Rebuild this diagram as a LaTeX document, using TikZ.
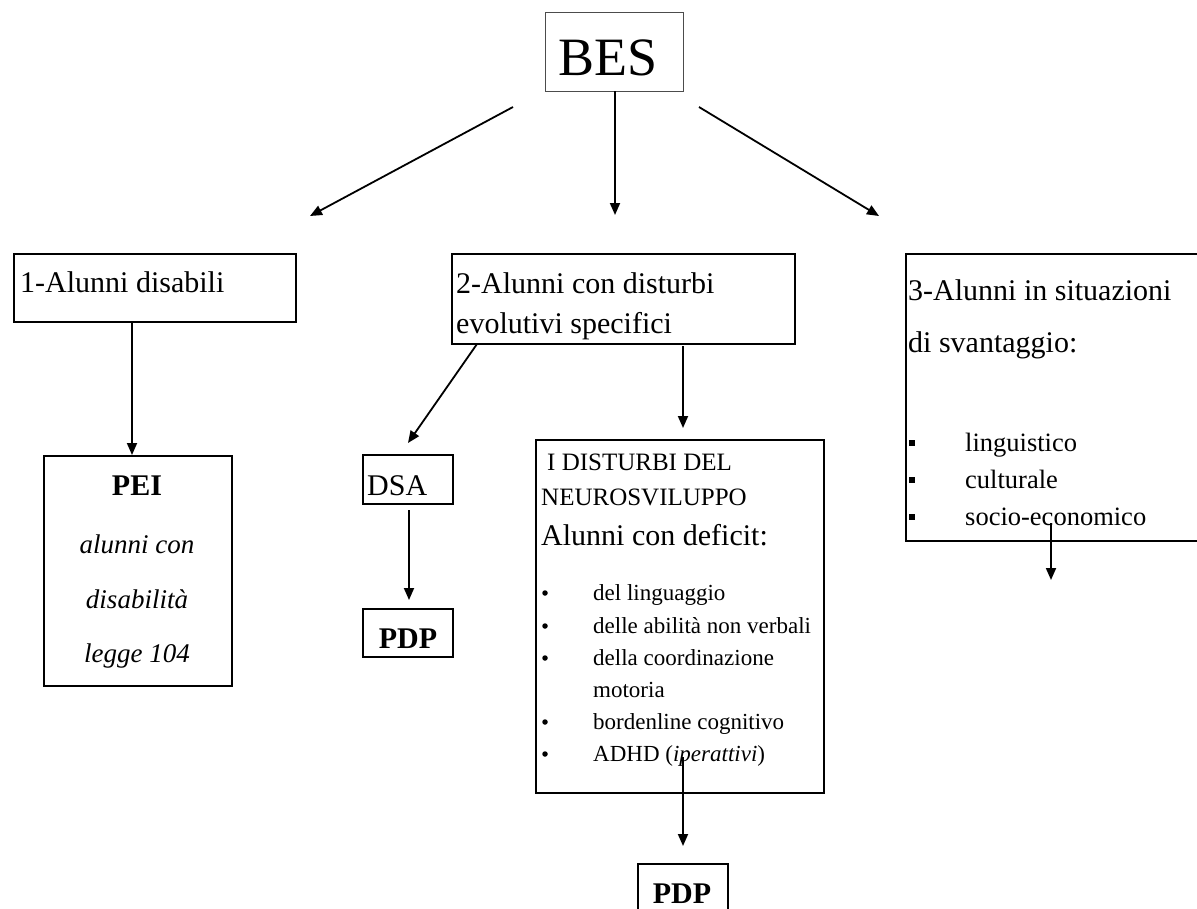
\documentclass[tikz,border=0pt]{standalone}
\usepackage{fontspec}
\setmainfont{Liberation Serif}
\usetikzlibrary{arrows.meta,calc}
\begin{document}
\begin{tikzpicture}[x=1pt,y=-1pt,
  box/.style={draw, line width=2pt, inner sep=0pt, anchor=north west},
  tl/.style={anchor=base west, inner sep=0pt},
  tc/.style={anchor=base, inner sep=0pt},
  arr/.style={line width=1.8pt, -{Triangle[length=12pt,width=10pt]}},
  big/.style={font=\fontsize{30}{36}\selectfont},
  mid/.style={font=\fontsize{25}{30}\selectfont},
  sml/.style={font=\fontsize{23}{28}\selectfont},
  ital/.style={font=\fontsize{27}{32}\selectfont\itshape},
  bold/.style={font=\fontsize{30}{36}\selectfont\bfseries},
  rb/.style={circle, fill, minimum size=5.5pt, inner sep=0pt},
  sq/.style={rectangle, fill, minimum size=5.5pt, inner sep=0pt}
]
\useasboundingbox (0,0) rectangle (1197,908);

% boxes
\node[box, line width=1.2pt, draw=black!70, minimum width=138pt, minimum height=79pt] (bes) at (545,12) {};
\node[box, minimum width=282pt, minimum height=68pt] (b1) at (13,253) {};
\node[box, minimum width=188pt, minimum height=230pt] (pei) at (43,455) {};
\node[box, minimum width=343pt, minimum height=90pt] (b2) at (451,253) {};
\node[box, minimum width=90pt, minimum height=49pt] (dsa) at (362,454) {};
\node[box, minimum width=90pt, minimum height=48pt] (pdp1) at (362,608) {};
\node[box, minimum width=288pt, minimum height=353pt] (neuro) at (535,439) {};
\node[box, minimum width=360pt, minimum height=287pt] (b3) at (905,253) {};
\node[box, minimum width=90pt, minimum height=60pt] (pdp2) at (637,863) {};

% texts
\node[tc, font=\fontsize{54}{60}\selectfont] (tbes) at (608,75) {BES};
\node[tl, big] (t1) at (20,292) {1-Alunni disabili};
\node[tc, bold] (tpei) at (137,495) {PEI};
\node[tc, ital] (tpei1) at (137,553) {alunni con};
\node[tc, ital] (tpei2) at (137,608) {disabilità};
\node[tc, ital] (tpei3) at (137,662) {legge 104};
\node[tl, big] (t2a) at (456,293) {2-Alunni con disturbi};
\node[tl, big] (t2b) at (456,333) {evolutivi specifici};
\node[tl, big] (tdsa) at (367,495) {DSA};
\node[tc, bold] (tpdp1) at (408,648) {PDP};
\node[tl, mid] (tn1) at (547,470) {I DISTURBI DEL};
\node[tl, mid] (tn2) at (541,505) {NEUROSVILUPPO};
\node[tl, big] (tn3) at (541,545) {Alunni con deficit:};
\node[tl, sml] (i1) at (593,600) {del linguaggio};
\node[tl, sml] (i2) at (593,633) {delle abilità non verbali};
\node[tl, sml] (i3) at (593,665) {della coordinazione};
\node[tl, sml] (i3b) at (593,697) {motoria};
\node[tl, sml] (i4) at (593,729) {bordenline cognitivo};
\node[tl, sml] (i5) at (593,761) {ADHD (\textit{iperattivi})};
\node[rb] (d1) at (545,593) {};
\node[rb] (d2) at (545,626) {};
\node[rb] (d3) at (545,658) {};
\node[rb] (d4) at (545,722) {};
\node[rb] (d5) at (545,754) {};
\node[tl, big] (t3a) at (908,300) {3-Alunni in situazioni};
\node[tl, big] (t3b) at (908,352) {di svantaggio:};
\node[tl, font=\fontsize{26.5}{32}\selectfont] (j1) at (965,451) {linguistico};
\node[tl, font=\fontsize{26.5}{32}\selectfont] (j2) at (965,488) {culturale};
\node[tl, font=\fontsize{26.5}{32}\selectfont] (j3) at (965,525) {socio-economico};
\node[sq] (s1) at (912,443) {};
\node[sq] (s2) at (912,480) {};
\node[sq] (s3) at (912,517) {};
\node[tc, bold] (tpdp2) at (682,903) {PDP};

% connector end points
\coordinate (aL0) at (513,107); \coordinate (aL1) at (310,216);
\coordinate (aM0) at (615,91);  \coordinate (aM1) at (615,215);
\coordinate (aR0) at (699,107); \coordinate (aR1) at (879,216);
\coordinate (p1) at (132,321);  \coordinate (p2) at (132,455);
\coordinate (q1) at (477,344);  \coordinate (q2) at (408,443);
\coordinate (r1) at (683,346);  \coordinate (r2) at (683,428);
\coordinate (u1) at (409,510);  \coordinate (u2) at (409,600);
\coordinate (v1) at (683,757);  \coordinate (v2) at (683,846);
\coordinate (w1) at (1051,523); \coordinate (w2) at (1051,580);

\draw[arr] (aL0) -- (aL1);
\draw[arr] (aM0) -- (aM1);
\draw[arr] (aR0) -- (aR1);
\draw[arr] (p1) -- (p2);
\draw[arr] (q1) -- (q2);
\draw[arr] (r1) -- (r2);
\draw[arr] (u1) -- (u2);
\draw[arr] (v1) -- (v2);
\draw[arr] (w1) -- (w2);
\end{tikzpicture}
\end{document}
